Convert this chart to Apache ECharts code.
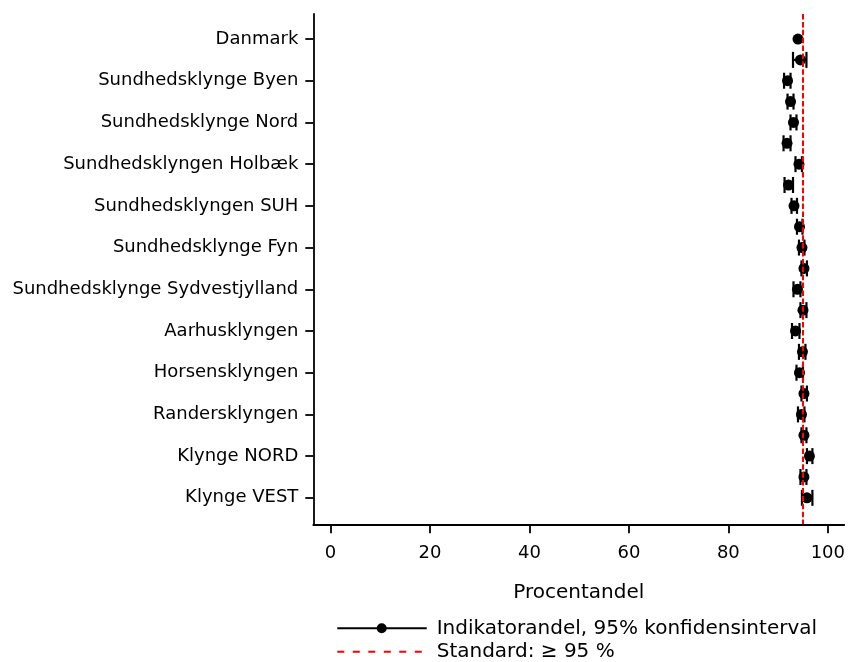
<!DOCTYPE html>
<html>
<head>
<meta charset="utf-8">
<script src="https://cdn.jsdelivr.net/npm/echarts@6/dist/echarts.min.js"></script>
<style>
html,body{margin:0;padding:0;background:#fff;}
#chart{width:848px;height:662px;}
</style>
</head>
<body>
<div id="chart"></div>
<script>
// Row labels (every other row carries a label in the reference)
var categories = [
  'Danmark', '',
  'Sundhedsklynge Byen', '',
  'Sundhedsklynge Nord', '',
  'Sundhedsklyngen Holbæk', '',
  'Sundhedsklyngen SUH', '',
  'Sundhedsklynge Fyn', '',
  'Sundhedsklynge Sydvestjylland', '',
  'Aarhusklyngen', '',
  'Horsensklyngen', '',
  'Randersklyngen', '',
  'Klynge NORD', '',
  'Klynge VEST'
];
var values = [94.0, 94.5, 91.9, 92.5, 93.1, 91.8, 94.2, 92.1, 93.2, 94.3, 94.8, 95.2,
              93.9, 95.0, 93.5, 94.9, 94.3, 95.2, 94.7, 95.2, 96.3, 95.2, 95.8];
var lower  = [null, 93.0, 91.2, 91.9, 92.5, 91.1, 93.5, 91.3, 92.7, 93.8, 94.2, 94.7,
              93.1, 94.5, 92.8, 94.2, 93.7, 94.7, 94.0, 94.7, 95.8, 94.5, 94.8];
var upper  = [null, 95.7, 92.5, 93.1, 93.7, 92.5, 94.8, 93.0, 93.8, 94.9, 95.3, 95.8,
              94.5, 95.7, 94.3, 95.5, 95.0, 95.8, 95.3, 95.7, 96.9, 95.7, 96.9];
var xTicks = [0, 20, 40, 60, 80, 100];
var standardValue = 95;
var xAxisName = 'Procentandel';
var legendPoint = 'Indikatorandel, 95% konfidensinterval';
var legendStandard = 'Standard: \u2265 95 %';

var labelRows = [];
categories.forEach(function (c, i) { if (c !== '') labelRows.push(i); });

var pointData = values.map(function (v, i) { return [v, i]; });
var ciData = [];
lower.forEach(function (lo, i) {
  if (lo != null && upper[i] != null) ciData.push([lo, upper[i], i]);
});

var FONT = 'DejaVu Sans';
var chart = echarts.init(document.getElementById('chart'), null, {renderer: 'canvas'});
chart.setOption({
  animation: false,
  backgroundColor: '#ffffff',
  grid: {left: 313.3, right: 3, top: 14, bottom: 137.7, containLabel: false},
  xAxis: {
    type: 'value',
    min: -3.45,
    max: 103.3,
    splitLine: {show: false},
    axisLine: {show: true, onZero: false, lineStyle: {color: '#000', width: 1.8}},
    axisTick: {show: true, length: 9, customValues: xTicks, lineStyle: {color: '#000', width: 1.8}},
    axisLabel: {customValues: xTicks, margin: 20, fontFamily: FONT, fontSize: 18, color: '#000'},
    name: xAxisName,
    nameLocation: 'middle',
    nameGap: 58,
    nameTextStyle: {fontFamily: FONT, fontSize: 20, color: '#000'}
  },
  yAxis: {
    type: 'value',
    inverse: true,
    min: -1.2,
    max: 23.27,
    splitLine: {show: false},
    axisLine: {show: true, onZero: false, lineStyle: {color: '#000', width: 1.8}},
    axisTick: {show: true, length: 8, customValues: labelRows, lineStyle: {color: '#000', width: 1.8}},
    axisLabel: {
      customValues: labelRows,
      margin: 15,
      fontFamily: FONT, fontSize: 18, color: '#000',
      formatter: function (v) { return categories[Math.round(v)] || ''; }
    }
  },
  series: [
    {
      type: 'custom',
      silent: true,
      z: 2,
      data: ciData,
      renderItem: function (params, api) {
        var a = api.coord([api.value(0), api.value(2)]);
        var b = api.coord([api.value(1), api.value(2)]);
        var h = 8;
        var st = {stroke: '#000', lineWidth: 2.2};
        return {
          type: 'group',
          children: [
            {type: 'line', shape: {x1: a[0], y1: a[1], x2: b[0], y2: b[1]}, style: st},
            {type: 'line', shape: {x1: a[0], y1: a[1] - h, x2: a[0], y2: a[1] + h}, style: st},
            {type: 'line', shape: {x1: b[0], y1: b[1] - h, x2: b[0], y2: b[1] + h}, style: st}
          ]
        };
      }
    },
    {
      type: 'scatter',
      z: 3,
      symbol: 'circle',
      symbolSize: 11,
      itemStyle: {color: '#000', opacity: 1},
      data: pointData,
      markLine: {
        silent: true,
        symbol: ['none', 'none'],
        label: {show: false},
        lineStyle: {color: '#ff0000', width: 2, type: [5.5, 2.4], opacity: 1},
        data: [{xAxis: standardValue}]
      }
    }
  ],
  graphic: [
    {type: 'line', shape: {x1: 337.3, y1: 628.3, x2: 426.7, y2: 628.3}, style: {stroke: '#000', lineWidth: 2}},
    {type: 'circle', shape: {cx: 381.7, cy: 628.3, r: 5}, style: {fill: '#000'}},
    {type: 'text', x: 436.7, y: 628.3, style: {text: legendPoint, font: '20px "DejaVu Sans"', fill: '#000', verticalAlign: 'middle', align: 'left'}},
    {type: 'line', shape: {x1: 337.3, y1: 651.7, x2: 426.7, y2: 651.7}, style: {stroke: '#ff0000', lineWidth: 2, lineDash: [7, 8.5]}},
    {type: 'text', x: 436.7, y: 651.7, style: {text: legendStandard, font: '20px "DejaVu Sans"', fill: '#000', verticalAlign: 'middle', align: 'left'}}
  ]
});
</script>
</body>
</html>
